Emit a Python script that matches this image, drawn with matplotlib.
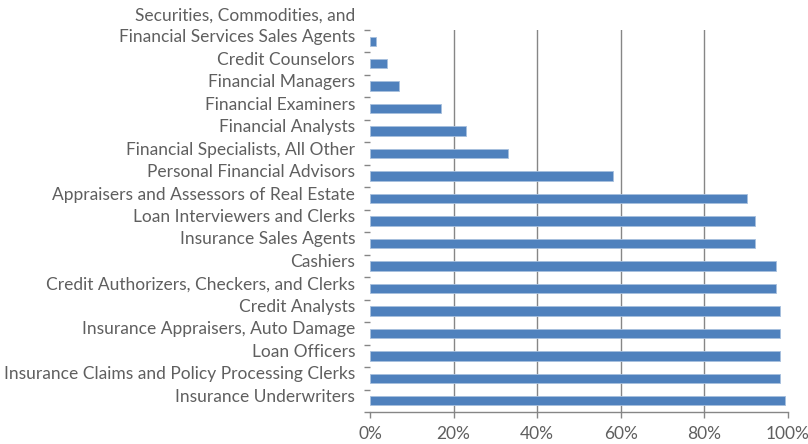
import matplotlib
matplotlib.use("Agg")
import matplotlib.pyplot as plt
import matplotlib.transforms as mtransforms
from matplotlib.ticker import FixedLocator, PercentFormatter

categories = [
    "Insurance Underwriters",
    "Insurance Claims and Policy Processing Clerks",
    "Loan Officers",
    "Insurance Appraisers, Auto Damage",
    "Credit Analysts",
    "Credit Authorizers, Checkers, and Clerks",
    "Cashiers",
    "Insurance Sales Agents",
    "Loan Interviewers and Clerks",
    "Appraisers and Assessors of Real Estate",
    "Personal Financial Advisors",
    "Financial Specialists, All Other",
    "Financial Analysts",
    "Financial Examiners",
    "Financial Managers",
    "Credit Counselors",
    "Securities, Commodities, and\nFinancial Services Sales Agents",
]
values = [99.3, 98.2, 98.2, 98.2, 98.2, 97.3, 97.3, 92.2, 92.2, 90.2,
          58.1, 33.0, 23.1, 17.1, 6.9, 4.0, 1.5]
x_ticks = [0, 20, 40, 60, 80, 100]

plt.rcParams['font.family'] = ['Lato', 'DejaVu Sans']
text_color = '#5f5f5f'
grid_color = '#868686'

fig = plt.figure(figsize=(8.08, 4.44), dpi=100)
ax = fig.add_axes([370 / 808, 32 / 444, (787.7 - 370) / 808, (412 - 30) / 444])

pos = list(range(len(categories)))
ax.barh(pos, values, height=0.42, color='#4F81BD', edgecolor='#A7BFDE',
        linewidth=0.6, zorder=3)

ax.set_xlim(0, 100)
ax.set_ylim(-0.5, len(categories) - 0.5)

ax.xaxis.set_major_locator(FixedLocator(x_ticks))
ax.xaxis.set_major_formatter(PercentFormatter(decimals=0))
for xv in x_ticks[1:-1]:
    ax.axvline(xv, color=grid_color, lw=1.0, zorder=1)

# category labels drawn as text so the two-line label can sit like Excel's
ax.set_yticks(pos)
ax.set_yticklabels([])
ax.set_yticks([p + 0.5 for p in [-1] + pos], minor=True)
ax.tick_params(axis='y', which='major', length=0)
ax.tick_params(axis='y', which='minor', length=4, width=1, color=grid_color,
               direction='out')

px = 1 / fig.dpi
base = mtransforms.blended_transform_factory(ax.transAxes, ax.transData)
for p, label in zip(pos, categories):
    lines = label.split("\n")
    for k, line in enumerate(reversed(lines)):
        off = mtransforms.ScaledTranslation(-15 * px, (-1 + 21.6 * k) * px,
                                            fig.dpi_scale_trans)
        ax.text(0, p, line, transform=base + off, ha='right', va='baseline',
                fontsize=12.5, color=text_color, clip_on=False)

ax.tick_params(axis='x', which='major', length=4, width=1, color=grid_color,
               direction='out', labelsize=12.5, labelcolor=text_color, pad=6)

for side in ['top', 'right', 'left']:
    ax.spines[side].set_visible(False)
ax.spines['bottom'].set_color(grid_color)
ax.spines['bottom'].set_linewidth(1.0)

fig.savefig("out.png", dpi=100)
